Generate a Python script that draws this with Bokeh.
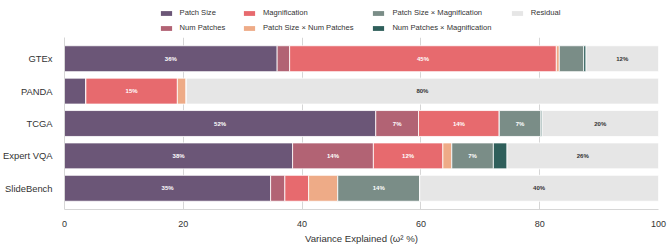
import numpy as np
from bokeh.plotting import figure
from bokeh.layouts import column
from bokeh.models import ColumnDataSource, FactorRange, Range1d, FixedTicker, Legend, LegendItem
from bokeh.core.properties import value
from bokeh.embed import file_html
from bokeh.resources import INLINE

# Variance decomposition (omega squared, %) per benchmark
datasets = ["GTEx", "PANDA", "TCGA", "Expert VQA", "SlideBench"]
components = [
    "Patch Size",
    "Num Patches",
    "Magnification",
    "Patch Size × Num Patches",
    "Patch Size × Magnification",
    "Num Patches × Magnification",
    "Residual",
]
patch_size = [35.8, 3.6, 52.4, 38.4, 34.7]
num_patches = [2.1, 0.0, 7.2, 13.6, 2.4]
magnification = [44.9, 15.4, 13.6, 11.7, 4.0]
ps_x_np = [0.5, 1.5, 0.0, 1.5, 4.9]
ps_x_mag = [4.1, 0.0, 7.0, 7.0, 13.8]
np_x_mag = [0.4, 0.0, 0.2, 2.3, 0.0]
residual = [12.2, 79.5, 19.6, 25.5, 40.2]

colors = ["#6b5677", "#b26374", "#e76a6e", "#eeab87", "#7a8d87", "#2f5f5b", "#e6e6e6"]
series = [patch_size, num_patches, magnification, ps_x_np, ps_x_mag, np_x_mag, residual]

FONT = "Liberation Sans"
TEXT = "#333333"
LINE = "#d6d6d6"

# ---- main stacked bar chart ----
p = figure(
    width=672, height=209,
    y_range=FactorRange(factors=datasets[::-1], range_padding=0.062),
    x_range=Range1d(0, 100),
    output_backend="svg", toolbar_location=None,
    min_border_left=64, min_border_right=14, min_border_top=0, min_border_bottom=36,
)
p.outline_line_color = None
p.background_fill_color = "white"

left = np.zeros(len(datasets))
for comp, vals, col in zip(components, series, colors):
    vals = np.asarray(vals, dtype=float)
    right = left + vals
    src = ColumnDataSource(dict(dataset=datasets, left=left, right=right))
    p.hbar(y="dataset", left="left", right="right", height=0.8, source=src,
           fill_color=col, line_color="white", line_width=0.8)

    # value labels on the larger segments
    keep = vals >= 5
    lab = ColumnDataSource(dict(
        x=(left + vals / 2)[keep],
        y=[d for d, k in zip(datasets, keep) if k],
        t=[f"{v:.0f}%" for v in vals[keep]],
    ))
    p.text(x="x", y="y", text="t", source=lab, text_align="center", text_baseline="middle",
           text_font=value(FONT), text_font_size="6px", text_font_style="bold",
           text_color=TEXT if comp == "Residual" else "white")
    left = right

p.xaxis.ticker = FixedTicker(ticks=[0, 20, 40, 60, 80, 100])
p.xaxis.axis_label = "Variance Explained (ω² %)"
p.xaxis.axis_label_text_font = FONT
p.xaxis.axis_label_text_font_style = "normal"
p.xaxis.axis_label_text_font_size = "9.6px"
p.xaxis.axis_label_text_color = TEXT
p.xaxis.axis_label_standoff = 3
for ax in (p.xaxis, p.yaxis):
    ax.major_label_text_font = FONT
    ax.major_label_text_color = TEXT
    ax.axis_line_color = LINE
    ax.major_tick_line_color = None
    ax.minor_tick_line_color = None
p.xaxis.major_label_text_font_size = "9px"
p.xaxis.major_label_standoff = 5
p.yaxis.major_label_text_font_size = "9.4px"
p.yaxis.major_label_standoff = 6

p.xgrid.grid_line_color = LINE
p.ygrid.grid_line_color = None

# ---- legend strip: four columns of swatches above the bars ----
# same side borders as the chart, so its frame lines up with the bars
lg = figure(
    width=672, height=37, x_range=Range1d(0, 1), y_range=Range1d(0, 1),
    x_axis_type=None, y_axis_type=None,
    output_backend="svg", toolbar_location=None,
    min_border_left=64, min_border_right=14, min_border_top=0, min_border_bottom=0,
)
lg.outline_line_color = None
lg.xgrid.visible = False
lg.ygrid.visible = False

# zero-width bars that only serve as legend swatches
swatches = []
for col in colors:
    stub = ColumnDataSource(dict(y=[0.5], left=[0.0], right=[0.0]))
    swatches.append(lg.hbar(y="y", left="left", right="right", height=0.1, source=stub,
                            fill_color=col, line_color=None))

groups = [[0, 1], [2, 3], [4, 5], [6]]
spots = [(94.6, 5), (178, 5), (307.4, 5), (445.8, 20)]
for g, loc in zip(groups, spots):
    items = [LegendItem(label=components[i], renderers=[swatches[i]]) for i in g]
    leg = Legend(items=items, location=loc, orientation="vertical")
    leg.glyph_width = 14
    leg.glyph_height = 6
    leg.label_height = 9
    leg.label_standoff = 7
    leg.spacing = 6
    leg.padding = 0
    leg.margin = 0
    leg.border_line_alpha = 0
    leg.background_fill_alpha = 0
    leg.label_text_font = FONT
    leg.label_text_font_size = "7.6px"
    leg.label_text_color = TEXT
    lg.add_layout(leg, "center")

page = column(lg, p, spacing=0)
open("out.html", "w").write(file_html(page, INLINE))
